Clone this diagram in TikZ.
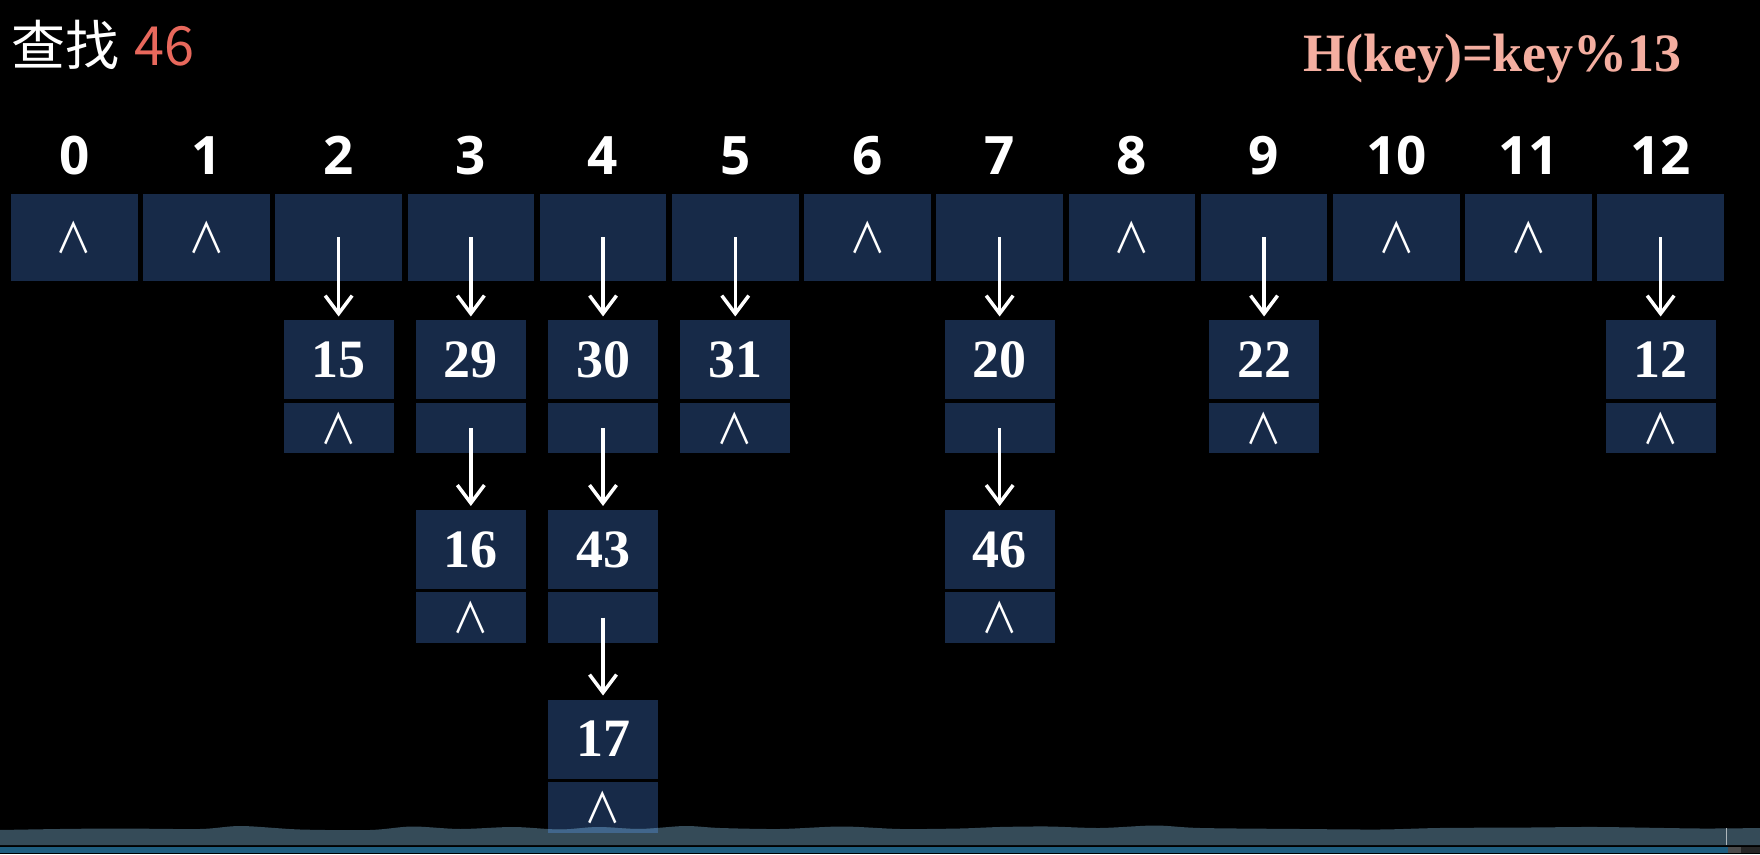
\documentclass[tikz,border=0pt]{standalone}
\usepackage{fontspec}
\usetikzlibrary{positioning,arrows.meta}
\setmainfont{Liberation Serif}
\newfontfamily\cjkfont{Noto Sans CJK SC}
\newfontfamily\idxfont{Open Sans}
\definecolor{cell}{RGB}{23,42,72}
\definecolor{hot}{RGB}{232,104,92}
\definecolor{rulecol}{RGB}{244,174,160}
\definecolor{band}{RGB}{53,75,88}
\definecolor{bandover}{RGB}{65,102,140}
\definecolor{bar}{RGB}{30,94,128}
\newcommand\nil{\scalebox{0.87}[1]{∧}}
\newcommand\bandpath{plot[smooth] coordinates {(0,24) (60,25) (120,25.5) (200,25) (241,28) (300,24.5) (370,24) (412,27.5) (460,25) (513,27) (560,24.5) (598,27) (640,25) (685,28) (720,26) (780,25) (842,27.5) (900,25) (960,25.5) (1000,27) (1048,27.5) (1100,26) (1155,28.5) (1200,26) (1300,25) (1380,24.5) (1440,26) (1531,26.5) (1598,27) (1700,25.5) (1760,26)} -- (1760,9) -- (0,9) -- cycle}

\begin{document}
\begin{tikzpicture}[x=1pt, y=1pt, node distance=5.7pt, label distance=19pt,
  bucket/.style={fill=cell, minimum width=126.5pt, minimum height=87pt, inner sep=0pt, outer sep=0pt, text=white, font=\cjkfont\fontsize{42pt}{42pt}\selectfont},
  idx/.style={inner sep=0pt, text=white, font=\idxfont\bfseries\fontsize{53pt}{53pt}\selectfont},
  val/.style={fill=cell, minimum width=109.7pt, minimum height=79pt, inner sep=0pt, outer sep=0pt, text=white, font=\bfseries\fontsize{54pt}{54pt}\selectfont},
  nxt/.style={fill=cell, minimum width=109.7pt, minimum height=50.5pt, inner sep=0pt, outer sep=0pt, text=white, font=\cjkfont\fontsize{42pt}{42pt}\selectfont},
  ptr/.style={draw=white, line width=3.5pt, shorten >=4pt, -{Straight Barb[length=18pt,width=27pt]}}]
\fill[black] (0,0) rectangle (1760,854);
\useasboundingbox (0,0) rectangle (1760,854);

\node[anchor=base west, inner sep=0pt, text=white, font=\cjkfont\fontsize{54pt}{54pt}\selectfont] (title) at (11,788) {查找\hspace{15pt}\textcolor{hot}{46}};
\node[anchor=base east, inner sep=0pt, text=rulecol, font=\bfseries\fontsize{54pt}{54pt}\selectfont] (rule) at (1682,782) {H(key)=key\%13};

% hash table
\node[bucket, label={[idx]above:0}] (b0) at (74.25,616.5) {\nil};
\node[bucket, label={[idx]above:1}, right=of b0] (b1) {\nil};
\node[bucket, label={[idx]above:2}, right=of b1] (b2) {};
\node[bucket, label={[idx]above:3}, right=of b2] (b3) {};
\node[bucket, label={[idx]above:4}, right=of b3] (b4) {};
\node[bucket, label={[idx]above:5}, right=of b4] (b5) {};
\node[bucket, label={[idx]above:6}, right=of b5] (b6) {\nil};
\node[bucket, label={[idx]above:7}, right=of b6] (b7) {};
\node[bucket, label={[idx]above:8}, right=of b7] (b8) {\nil};
\node[bucket, label={[idx]above:9}, right=of b8] (b9) {};
\node[bucket, label={[idx]above:10}, right=of b9] (b10) {\nil};
\node[bucket, label={[idx]above:11}, right=of b10] (b11) {\nil};
\node[bucket, label={[idx]above:12}, right=of b11] (b12) {};

% chains
\node[val, below=39.5pt of b2] (d15) {15};
\node[nxt, below=3.5pt of d15] (n15) {\nil};
\node[val, below=39.5pt of b3] (d29) {29};
\node[nxt, below=3.5pt of d29] (n29) {};
\node[val, below=56.5pt of n29] (d16) {16};
\node[nxt, below=3.5pt of d16] (n16) {\nil};
\node[val, below=39.5pt of b4] (d30) {30};
\node[nxt, below=3.5pt of d30] (n30) {};
\node[val, below=56.5pt of n30] (d43) {43};
\node[nxt, below=3.5pt of d43] (n43) {};
\node[val, below=56.5pt of n43] (d17) {17};
\node[nxt, below=3.5pt of d17] (n17) {\nil};
\node[val, below=39.5pt of b5] (d31) {31};
\node[nxt, below=3.5pt of d31] (n31) {\nil};
\node[val, below=39.5pt of b7] (d20) {20};
\node[nxt, below=3.5pt of d20] (n20) {};
\node[val, below=56.5pt of n20] (d46) {46};
\node[nxt, below=3.5pt of d46] (n46) {\nil};
\node[val, below=39.5pt of b9] (d22) {22};
\node[nxt, below=3.5pt of d22] (n22) {\nil};
\node[val, below=39.5pt of b12] (d12) {12};
\node[nxt, below=3.5pt of d12] (n12) {\nil};

\draw[ptr] (b2.center) -- (d15.north);
\draw[ptr] (b3.center) -- (d29.north);
\draw[ptr] (n29.center) -- (d16.north);
\draw[ptr] (b4.center) -- (d30.north);
\draw[ptr] (n30.center) -- (d43.north);
\draw[ptr] (n43.center) -- (d17.north);
\draw[ptr] (b5.center) -- (d31.north);
\draw[ptr] (b7.center) -- (d20.north);
\draw[ptr] (n20.center) -- (d46.north);
\draw[ptr] (b9.center) -- (d22.north);
\draw[ptr] (b12.center) -- (d12.north);

% player bar
\fill[band] \bandpath;
\begin{scope}
\clip (n17.south west) rectangle (n17.north east);
\fill[bandover] \bandpath;
\end{scope}
\draw[band!40!white, line width=1pt] (1726,9) -- (1726,26);
\fill[bar] (0,1.3) rectangle (1728,7.3);
\fill[black!70] (1728,1.3) rectangle (1741,7.3);
\fill[black!85] (1741,1.3) rectangle (1760,7.3);
\end{tikzpicture}
\end{document}
